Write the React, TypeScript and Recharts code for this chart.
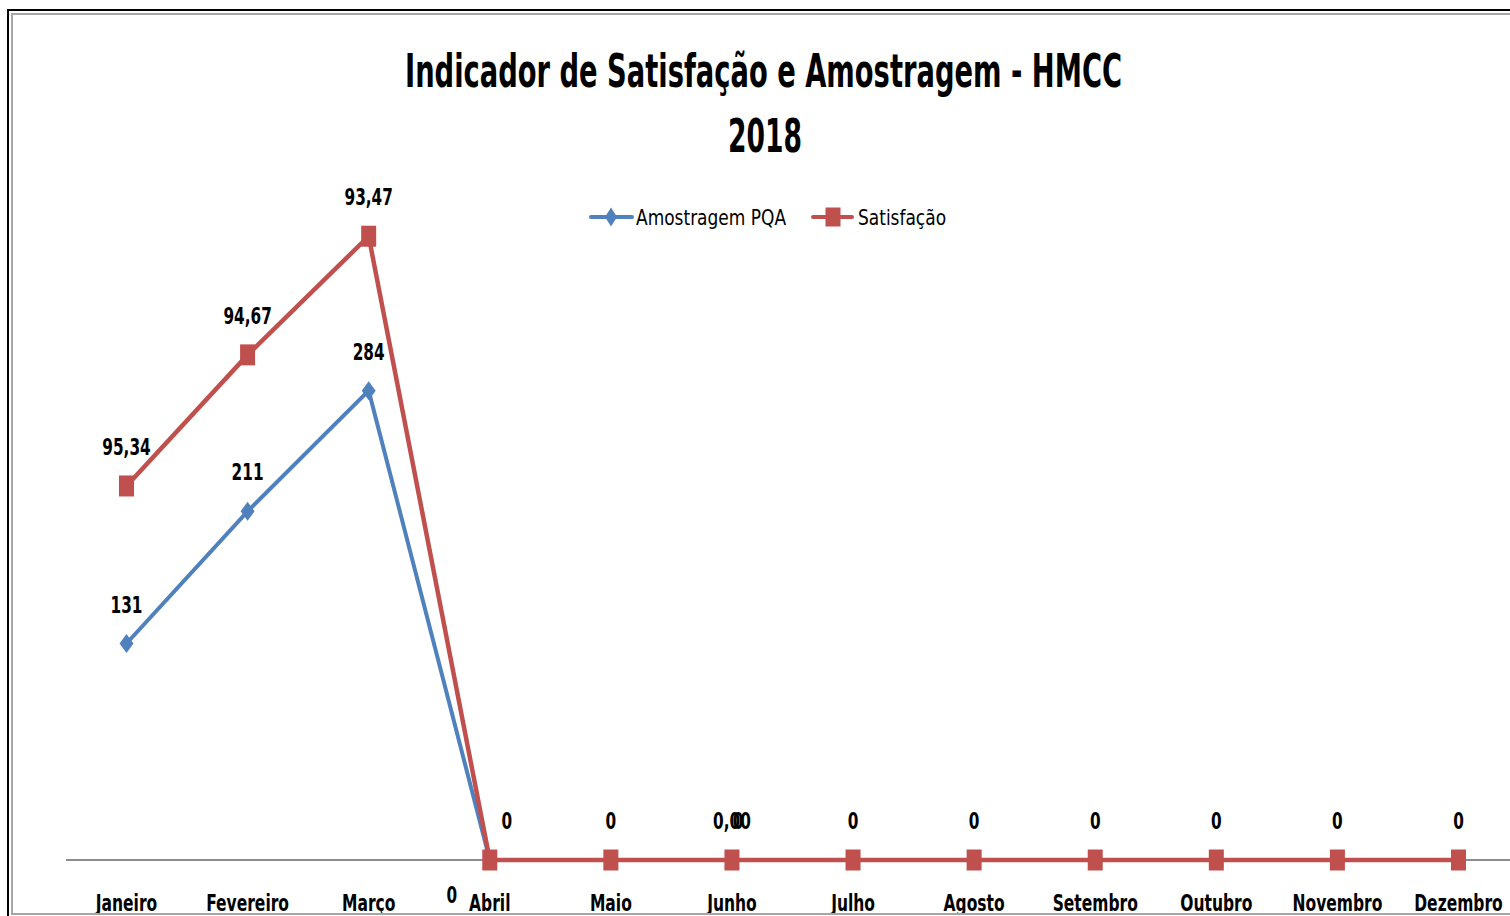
import React from "react";
import { LineChart, Line, XAxis, YAxis } from "recharts";

// Meses do ano
const meses = [
  "Janeiro", "Fevereiro", "Março", "Abril", "Maio", "Junho",
  "Julho", "Agosto", "Setembro", "Outubro", "Novembro", "Dezembro",
];

// Valores das séries (linha empilhada como no Excel)
const amostragem = [131, 211, 284, 0, 0, 0, 0, 0, 0, 0, 0, 0];
const satisfacao = [95.34, 94.67, 93.47, 0, 0, 0, 0, 0, 0, 0, 0, 0];

// Rótulos de dados
const rotulosAmostragem = ["131", "211", "284", "0", "", "0", "", "", "", "", "", ""];
const rotulosSatisfacao = ["95,34", "94,67", "93,47", "0", "0", "0,00", "0", "0", "0", "0", "0", "0"];

// empilhamento: satisfação fica sobre a amostragem
const dados = meses.map((mes, i) => ({
  mes,
  amostragem: amostragem[i],
  satisfacaoEmpilhada: amostragem[i] + satisfacao[i],
}));

const AZUL = "#4F81BD";
const VERMELHO = "#C0504D";
const FONTE = "'DejaVu Sans Condensed', 'DejaVu Sans', sans-serif";

// texto estreitado horizontalmente (imita a Calibri comprimida do original)
function Texto(props: {
  x: number;
  y: number;
  size: number;
  sx: number;
  bold?: boolean;
  anchor?: "start" | "middle" | "end";
  children: React.ReactNode;
}) {
  const { x, y, size, sx, bold = true, anchor = "middle", children } = props;
  return (
    <text
      transform={`translate(${x},${y}) scale(${sx},1)`}
      textAnchor={anchor}
      style={{ fontFamily: FONTE, fontWeight: bold ? 700 : 400, fontSize: size, fill: "#000" }}
    >
      {children}
    </text>
  );
}

function Diamante({ cx, cy, w = 14, h = 19 }: { cx: number; cy: number; w?: number; h?: number }) {
  return (
    <path
      d={`M${cx},${cy - h / 2} L${cx + w / 2},${cy} L${cx},${cy + h / 2} L${cx - w / 2},${cy} Z`}
      fill={AZUL}
    />
  );
}

function Quadrado({ cx, cy, w = 15, h = 21 }: { cx: number; cy: number; w?: number; h?: number }) {
  return <rect x={cx - w / 2} y={cy - h / 2} width={w} height={h} fill={VERMELHO} />;
}

function pontoAmostragem(props: any) {
  const { cx, cy, index } = props;
  const txt = rotulosAmostragem[index];
  // posições manuais como no original
  let lx = cx;
  let ly = cy - 31;
  if (index === 3) {
    lx = cx - 38;
    ly = cy + 43;
  } else if (index === 5) {
    lx = cx + 6;
  }
  return (
    <g key={`a-${index}`}>
      <Diamante cx={cx} cy={cy} />
      {txt && (
        <Texto x={lx} y={ly} size={23} sx={0.74}>
          {txt}
        </Texto>
      )}
    </g>
  );
}

function pontoSatisfacao(props: any) {
  const { cx, cy, index } = props;
  const txt = rotulosSatisfacao[index];
  let lx = cx;
  const ly = cy - 31;
  if (index === 3) lx = cx + 17;
  return (
    <g key={`s-${index}`}>
      <Quadrado cx={cx} cy={cy} />
      {txt && (
        <Texto x={lx} y={ly} size={23} sx={0.74}>
          {txt}
        </Texto>
      )}
    </g>
  );
}

function TickMes(props: any) {
  const { x, payload } = props;
  return (
    <Texto x={x} y={911} size={23} sx={0.75}>
      {payload.value}
    </Texto>
  );
}

export default function App() {
  return (
    <div style={{ position: "fixed", left: 0, top: 0, width: 1510, height: 916, overflow: "hidden", background: "#fff" }}>
      <div
        style={{
          position: "absolute", left: 7, top: 9, width: 1600, height: 1000,
          border: "2px solid #000", boxSizing: "border-box",
        }}
      />
      <div
        style={{
          position: "absolute", left: 11, top: 13, width: 1600, height: 902,
          border: "2px solid #a6a6a6", boxSizing: "border-box", overflow: "hidden",
        }}
      >
        <div style={{ position: "absolute", left: -13, top: -15 }}>
          {/* linha do eixo horizontal, por baixo das séries */}
          <svg width={1540} height={916} style={{ position: "absolute", left: 0, top: 0 }}>
            <line x1={66} y1={860} x2={1540} y2={860} stroke="#8c8c8c" strokeWidth={2} />
          </svg>
          <div style={{ position: "absolute", left: 0, top: 0 }}>
            <LineChart
              width={1540}
              height={916}
              data={dados}
              margin={{ top: 199, right: 21, bottom: 0, left: 66 }}
            >
              <XAxis
                dataKey="mes"
                scale="point"
                padding={{ left: 60.5, right: 60.5 }}
                height={56}
                tickLine={false}
                axisLine={false}
                tick={<TickMes />}
                interval={0}
              />
              <YAxis hide domain={[0, 400]} />
              <Line
                type="linear"
                dataKey="amostragem"
                stroke={AZUL}
                strokeWidth={4}
                dot={pontoAmostragem}
                activeDot={false}
                isAnimationActive={false}
              />
              <Line
                type="linear"
                dataKey="satisfacaoEmpilhada"
                stroke={VERMELHO}
                strokeWidth={4.5}
                dot={pontoSatisfacao}
                activeDot={false}
                isAnimationActive={false}
              />
            </LineChart>
          </div>
          <svg
            width={1540}
            height={916}
            style={{ position: "absolute", left: 0, top: 0, pointerEvents: "none" }}
          >
            <text
              x={763.5}
              y={87}
              textAnchor="middle"
              textLength={717}
              lengthAdjust="spacingAndGlyphs"
              style={{ fontFamily: FONTE, fontWeight: 700, fontSize: 47, fill: "#000" }}
            >
              Indicador de Satisfação e Amostragem - HMCC
            </text>
            <text
              x={765}
              y={152}
              textAnchor="middle"
              textLength={74}
              lengthAdjust="spacingAndGlyphs"
              style={{ fontFamily: FONTE, fontWeight: 700, fontSize: 47, fill: "#000" }}
            >
              2018
            </text>
            {/* legenda */}
            <line x1={591} y1={217} x2={632} y2={217} stroke={AZUL} strokeWidth={4} strokeLinecap="round" />
            <Diamante cx={611} cy={217} w={12} h={19} />
            <Texto x={636} y={225} size={22} sx={0.86} bold={false} anchor="start">
              Amostragem PQA
            </Texto>
            <line x1={813} y1={217} x2={852} y2={217} stroke={VERMELHO} strokeWidth={4} strokeLinecap="round" />
            <Quadrado cx={833} cy={217} w={15} h={19} />
            <Texto x={858} y={225} size={22} sx={0.86} bold={false} anchor="start">
              Satisfação
            </Texto>
          </svg>
        </div>
      </div>
    </div>
  );
}
